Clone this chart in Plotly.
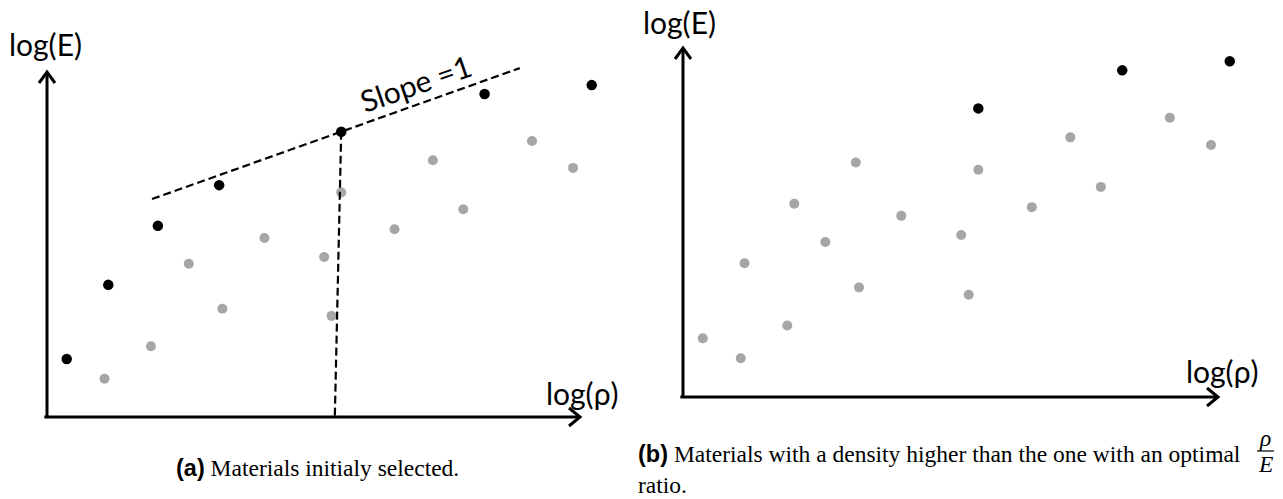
import plotly.graph_objects as go

W, H = 1283, 499

# ---- data (log(rho), log(E)) in arbitrary axis units (axes run 0..10) ----
rho = [0.37, 1.15, 2.08, 3.23, 5.52, 8.21, 10.22,
       1.08, 1.95, 2.66, 3.29, 4.08, 5.20, 5.34, 5.52, 6.52, 7.24, 7.81, 9.10, 9.87]
E = [1.68, 3.83, 5.54, 6.72, 8.27, 9.36, 9.62,
     1.11, 2.05, 4.44, 3.14, 5.19, 4.64, 2.93, 6.51, 5.44, 7.44, 6.02, 8.00, 7.22]
on_front = [1, 1, 1, 1, 1, 1, 1,
            0, 0, 0, 0, 0, 0, 0, 0, 0, 0, 0, 0, 0]
opt_index = 4            # material with the optimal rho/E ratio
slope = 0.55             # slope of the "Slope =1" line in these axis units
slope_line_rho = [1.97, 8.87]
cutoff_foot_rho = 5.40
axis_max = 10

GRAY = "#a6a6a6"
BLACK = "#000000"

# panel geometry (pixel origin and pixel-per-unit scale)
panels = [
    dict(xa="x", ya="y", ox=47, sx=53.3, oy=417, sy=34.5, left=0.0, right=641.5),
    dict(xa="x2", ya="y2", ox=683, sx=53.5, oy=397, sy=34.9, left=641.5, right=1283.0),
]

rho_opt = rho[opt_index]
E_opt = E[opt_index]
black_a = [bool(f) for f in on_front]
black_b = [bool(f) and r >= rho_opt for f, r in zip(on_front, rho)]

fig = go.Figure()

for p, black in zip(panels, [black_a, black_b]):
    gx = [r for r, b in zip(rho, black) if not b]
    gy = [e for e, b in zip(E, black) if not b]
    bx = [r for r, b in zip(rho, black) if b]
    by = [e for e, b in zip(E, black) if b]
    fig.add_trace(go.Scatter(x=gx, y=gy, mode="markers", xaxis=p["xa"], yaxis=p["ya"],
                             marker=dict(size=10, color=GRAY), cliponaxis=False,
                             showlegend=False, hoverinfo="skip"))
    if p is panels[0]:
        # slope line through the optimal material
        sy_ = [E_opt + slope * (r - rho_opt) for r in slope_line_rho]
        fig.add_trace(go.Scatter(x=slope_line_rho, y=sy_, mode="lines", xaxis="x", yaxis="y",
                                 line=dict(color=BLACK, width=2.2, dash="8px,4px"),
                                 showlegend=False, hoverinfo="skip"))
        fig.add_trace(go.Scatter(x=[rho_opt, cutoff_foot_rho], y=[E_opt, 0], mode="lines",
                                 xaxis="x", yaxis="y",
                                 line=dict(color=BLACK, width=2.2, dash="8px,4px"),
                                 showlegend=False, hoverinfo="skip"))
    fig.add_trace(go.Scatter(x=bx, y=by, mode="markers", xaxis=p["xa"], yaxis=p["ya"],
                             marker=dict(size=10.5, color=BLACK), cliponaxis=False,
                             showlegend=False, hoverinfo="skip"))

shapes = []
layout_axes = {}
for i, p in enumerate(panels):
    xr = [(p["left"] - p["ox"]) / p["sx"], (p["right"] - p["ox"]) / p["sx"]]
    yr = [(p["oy"] - H) / p["sy"], p["oy"] / p["sy"]]
    xname = "xaxis" if i == 0 else "xaxis2"
    yname = "yaxis" if i == 0 else "yaxis2"
    layout_axes[xname] = dict(domain=[p["left"] / W, p["right"] / W], range=xr, visible=False,
                              anchor=p["ya"], fixedrange=True)
    layout_axes[yname] = dict(domain=[0, 1], range=yr, visible=False, anchor=p["xa"],
                              fixedrange=True)
    ln = dict(color=BLACK, width=3)
    # axis lines
    shapes.append(dict(type="line", xref=p["xa"], yref=p["ya"], x0=-0.05, y0=0, x1=axis_max, y1=0, line=ln))
    shapes.append(dict(type="line", xref=p["xa"], yref=p["ya"], x0=0, y0=0, x1=0, y1=axis_max, line=ln))
    # arrowheads (open chevrons)
    shapes.append(dict(type="path", xref=p["xa"], yref=p["ya"], xsizemode="pixel", ysizemode="pixel",
                       xanchor=axis_max, yanchor=0, path="M-11,9 L0,0 L-11,-9", line=ln))
    shapes.append(dict(type="path", xref=p["xa"], yref=p["ya"], xsizemode="pixel", ysizemode="pixel",
                       xanchor=0, yanchor=axis_max, path="M-8,-11 L0,0 L8,-11", line=ln))


def px(v):
    return v / W


def py(v):
    return 1 - v / H


LBL = dict(family="Lato, Open Sans, sans-serif", size=30, color=BLACK)
SLP = dict(family="Lato, Open Sans, sans-serif", size=30, color=BLACK)
SER = dict(family="Liberation Serif, Times New Roman, serif", size=23.5, color=BLACK)

annotations = [
    dict(text="log(E)", x=px(45), y=py(44), font=LBL),
    dict(text="log(ρ)", x=px(582), y=py(393), font=LBL),
    dict(text="log(E)", x=px(680), y=py(22), font=LBL),
    dict(text="log(ρ)", x=px(1222), y=py(371), font=LBL),
    dict(text="Slope =1", x=px(415), y=py(83), textangle=-19, font=SLP),
    dict(text="<span style='font-family:Liberation Sans, Arial, sans-serif'><b>(a)</b></span> Materials initialy selected.",
         x=px(317), y=py(468), font=SER),
    dict(text="<span style='font-family:Liberation Sans, Arial, sans-serif'><b>(b)</b></span> Materials with a density higher than the one with an optimal",
         x=px(636), y=py(454), xanchor="left", font=SER),
    dict(text="ratio.", x=px(636), y=py(485), xanchor="left", font=SER),
    dict(text="<i>ρ</i>", x=px(1265), y=py(438), font=SER),
    dict(text="<i>E</i>", x=px(1265), y=py(464), font=SER),
]
for a in annotations:
    a.setdefault("xref", "paper")
    a.setdefault("yref", "paper")
    a.setdefault("showarrow", False)
    a.setdefault("xanchor", "center")
    a.setdefault("yanchor", "middle")

shapes.append(dict(type="line", xref="paper", yref="paper", x0=px(1257), x1=px(1274),
                   y0=py(451), y1=py(451), line=dict(color=BLACK, width=1.2)))

fig.update_layout(width=W, height=H, margin=dict(l=0, r=0, t=0, b=0),
                  paper_bgcolor="white", plot_bgcolor="white",
                  shapes=shapes, annotations=annotations, **layout_axes)

fig.write_html("out.html", config={"displayModeBar": False},
               post_script="document.body.style.margin='0';document.body.style.overflow='hidden';")
